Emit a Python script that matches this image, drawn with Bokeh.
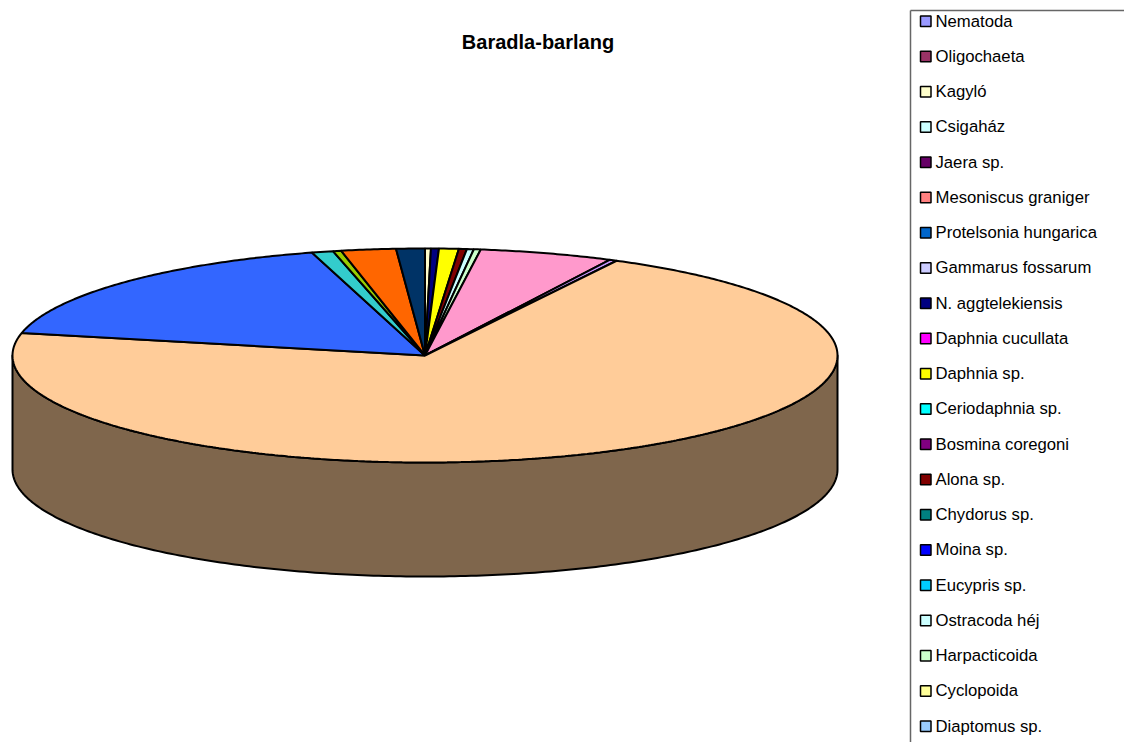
import numpy as np
from bokeh.core.properties import value
from bokeh.embed import file_html
from bokeh.models import Range1d
from bokeh.plotting import figure
from bokeh.resources import INLINE

TITLE = "Baradla-barlang"

# Taxa listed in the key, with their share of the sample (percent)
taxa = [
    "Nematoda", "Oligochaeta", "Kagyló", "Csigaház", "Jaera sp.",
    "Mesoniscus graniger", "Protelsonia hungarica", "Gammarus fossarum",
    "N. aggtelekiensis", "Daphnia cucullata", "Daphnia sp.",
    "Ceriodaphnia sp.", "Bosmina coregoni", "Alona sp.", "Chydorus sp.",
    "Moina sp.", "Eucypris sp.", "Ostracoda héj", "Harpacticoida",
    "Cyclopoida", "Diaptomus sp.",
]
taxa_share = [
    0.0, 0.0, 0.23, 0.0, 0.0,
    0.0, 0.0, 0.0,
    0.31, 0.0, 0.77,
    0.0, 0.0, 0.31, 0.0,
    0.0, 0.0, 0.27, 0.27,
    0.0, 0.0,
]
taxa_colors = [
    "#9999FF", "#993366", "#FFFFCC", "#CCFFFF", "#660066",
    "#FF8080", "#0066CC", "#CCCCFF",
    "#000080", "#FF00FF", "#FFFF00",
    "#00FFFF", "#800080", "#800000", "#008080",
    "#0000FF", "#00CCFF", "#CCFFFF", "#CCFFCC",
    "#FFFF99", "#99CCFF",
]

# Remaining slices of the pie, continuing clockwise after the listed taxa
other_share = [5.23, 0.30, 70.70, 17.20, 0.84, 0.32, 2.14, 1.12]
other_colors = ["#FF99CC", "#CC99FF", "#FFCC99", "#3366FF", "#33CCCC",
                "#99CC00", "#FF6600", "#003366"]

shares = np.array(taxa_share + other_share, dtype=float)
colors = taxa_colors + other_colors

# Pie geometry, in page pixels
CX, CY = 424.5, 355.0
RX, RY = 412.5, 107.0
DEPTH = 114.0
EDGE = 2.0

p = figure(width=1124, height=742, output_backend="svg", toolbar_location=None,
           x_range=Range1d(0, 1124), y_range=Range1d(742, 0),
           min_border=0, outline_line_color=None, background_fill_color="white")
p.axis.visible = False
p.grid.visible = False


def rim(theta, drop=0.0):
    """Point on the ellipse, with theta measured clockwise from 12 o'clock."""
    return CX + RX * np.sin(theta), CY - RY * np.cos(theta) + drop


def shade(color, factor=0.5):
    r, g, b = (int(color[i:i + 2], 16) for i in (1, 3, 5))
    return "#%02X%02X%02X" % (int(r * factor), int(g * factor), int(b * factor))


edges = np.concatenate([[0.0], np.cumsum(shares)]) / shares.sum() * 2 * np.pi

# Front wall first: only the part of each slice facing the viewer
for start, stop, color in zip(edges[:-1], edges[1:], colors):
    lo, hi = max(start, np.pi / 2), min(stop, 3 * np.pi / 2)
    if hi <= lo:
        continue
    t = np.linspace(lo, hi, 240)
    x_top, y_top = rim(t)
    x_bot, y_bot = rim(t[::-1], DEPTH)
    p.patch(np.r_[x_top, x_bot], np.r_[y_top, y_bot], fill_color=shade(color),
            line_color="black", line_width=EDGE, line_join="round")

# Top face, one wedge per non-empty slice
for start, stop, color in zip(edges[:-1], edges[1:], colors):
    if stop <= start:
        continue
    t = np.linspace(start, stop, max(3, int((stop - start) * 120)))
    x, y = rim(t)
    p.patch(np.r_[CX, x], np.r_[CY, y], fill_color=color,
            line_color="black", line_width=EDGE, line_join="bevel")

p.text([537.5], [41], text=[TITLE], text_font=value("Liberation Sans"),
       text_font_size="20px", text_font_style="bold", text_color="black",
       text_align="center", text_baseline="middle")

# Key: frame runs off the page on the right and at the bottom
p.line([910, 910], [742, 10], line_color="#666666", line_width=1.5)
p.line([910, 1124], [10, 10], line_color="#666666", line_width=1.5)

ROW0, ROW_STEP = 20.5, 35.25
rows = ROW0 + ROW_STEP * np.arange(len(taxa))
p.quad(left=920, right=930.5, top=rows - 5, bottom=rows + 5.5,
       fill_color=taxa_colors, line_color="black", line_width=1.5)
p.text(x=[935] * len(taxa), y=rows, text=taxa,
       text_font=value("Liberation Sans"), text_font_size="16.7px",
       text_color="black", text_align="left", text_baseline="middle")

open("out.html", "w").write(file_html(p, INLINE))
